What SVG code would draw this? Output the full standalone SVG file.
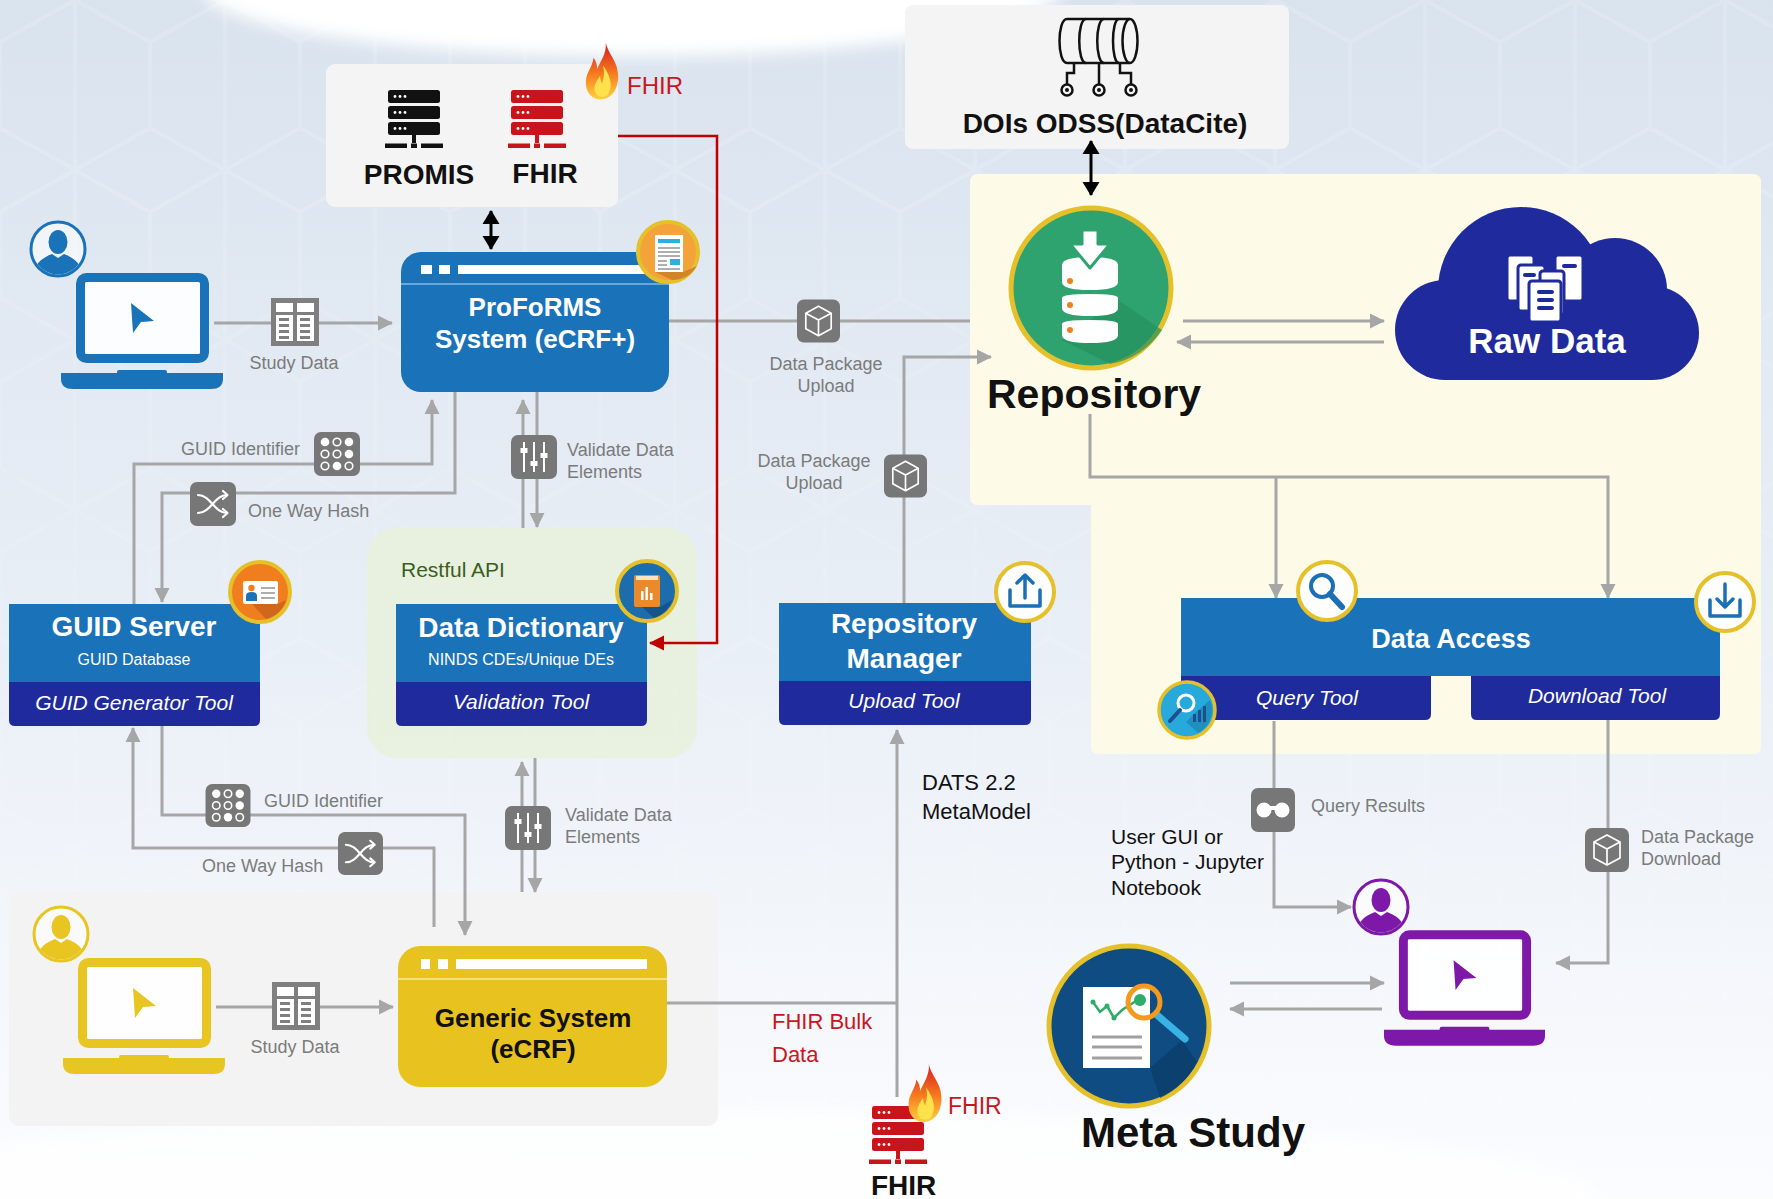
<svg xmlns="http://www.w3.org/2000/svg" width="1773" height="1199" viewBox="0 0 1773 1199">
<style>
  text { font-family: "Liberation Sans", Arial, sans-serif; }
  .lbl { font-size: 18px; fill: #7b7b7b; }
  .blk { fill: #111; }
  .ttl { font-weight: bold; fill: #fff; }
  .tool { font-style: italic; fill: #fff; font-size: 21px; }
  .sub { fill: #fff; font-size: 16px; }
  .mid { text-anchor: middle; }
  .red { fill: #c8161d; }
  .wire { fill: none; stroke: #a6a6a6; stroke-width: 3; }
  .arr { marker-end: url(#ag); }
  .blue { fill: #1a72b9; }
  .navy { fill: #1f2a9c; }
  .ring { stroke: #e6c02a; stroke-width: 4; }
</style>
<defs>
  <linearGradient id="bg" x1="0" y1="0" x2="0" y2="1">
    <stop offset="0" stop-color="#d9e3ee"/>
    <stop offset="0.5" stop-color="#e8eef6"/>
    <stop offset="1" stop-color="#fbfcfe"/>
  </linearGradient>
  <linearGradient id="fade" x1="0" y1="0" x2="0" y2="1">
    <stop offset="0" stop-color="#fff" stop-opacity="1"/>
    <stop offset="0.7" stop-color="#fff" stop-opacity="0.4"/>
    <stop offset="1" stop-color="#fff" stop-opacity="0"/>
  </linearGradient>
  <mask id="fadeMask"><rect width="1773" height="1199" fill="url(#fade)"/></mask>
  <pattern id="lattice" width="150" height="170" patternUnits="userSpaceOnUse">
    <path d="M75,0 L150,42 V128 L75,170 L0,128 V42 Z M75,0 V170" fill="none" stroke="#ffffff" stroke-opacity="0.45" stroke-width="4"/>
  </pattern>
  <filter id="soft" x="-20%" y="-50%" width="140%" height="200%"><feGaussianBlur stdDeviation="8"/></filter>
  <linearGradient id="flameG" x1="0" y1="1" x2="0" y2="0">
    <stop offset="0" stop-color="#ffd23f"/>
    <stop offset="0.45" stop-color="#f57c1f"/>
    <stop offset="1" stop-color="#d7191f"/>
  </linearGradient>
  <clipPath id="pclip"><circle r="25.5"/></clipPath>

  <marker id="ag" markerUnits="userSpaceOnUse" markerWidth="16" markerHeight="16" refX="14" refY="8" orient="auto">
    <path d="M0,0.5 L15,8 L0,15.5 Z" fill="#a6a6a6"/>
  </marker>
  <marker id="ar" markerUnits="userSpaceOnUse" markerWidth="16" markerHeight="16" refX="14" refY="8" orient="auto">
    <path d="M0,0.5 L15,8 L0,15.5 Z" fill="#c00000"/>
  </marker>
  <marker id="ak" markerUnits="userSpaceOnUse" markerWidth="16" markerHeight="18" refX="13" refY="9" orient="auto-start-reverse">
    <path d="M0,0.5 L14,9 L0,17.5 Z" fill="#000"/>
  </marker>

  <!-- rack server -->
  <symbol id="server" viewBox="0 0 58 58">
    <g fill="currentColor">
      <rect x="3" y="0" width="52" height="13" rx="2.5"/>
      <rect x="3" y="16" width="52" height="13" rx="2.5"/>
      <rect x="3" y="32" width="52" height="13" rx="2.5"/>
      <rect x="27" y="45" width="4" height="8"/>
      <rect x="0" y="53.5" width="22" height="4.5"/>
      <rect x="26" y="53.5" width="6" height="4.5"/>
      <rect x="36" y="53.5" width="22" height="4.5"/>
    </g>
    <g fill="#fff">
      <circle cx="10" cy="6.5" r="1.4"/><circle cx="15" cy="6.5" r="1.4"/><circle cx="20" cy="6.5" r="1.4"/>
      <circle cx="10" cy="22.5" r="1.4"/><circle cx="15" cy="22.5" r="1.4"/><circle cx="20" cy="22.5" r="1.4"/>
      <circle cx="10" cy="38.5" r="1.4"/><circle cx="15" cy="38.5" r="1.4"/><circle cx="20" cy="38.5" r="1.4"/>
    </g>
  </symbol>

  <!-- flame logo -->
  <symbol id="flame" viewBox="0 0 40 60">
    <path d="M24,0 C26,12 38,20 37,38 C36,52 28,60 19,60 C9,60 2,52 3,40 C4,30 10,26 11,16 C14,20 15,24 15,28 C18,20 25,12 24,0 Z" fill="url(#flameG)"/>
    <path d="M21,24 C28,34 32,44 27,54 C24,59 16,59 13,53 C10,46 15,40 18,35 C18,39 19,41 20,43 C22,37 23,31 21,24 Z" fill="#ffe14d"/>
  </symbol>

  <!-- laptop with pointer -->
  <symbol id="laptop" viewBox="0 0 162 116">
    <rect x="19.5" y="4.5" width="124" height="81" rx="6" fill="#fff" fill-opacity="0.9" stroke="currentColor" stroke-width="9"/>
    <rect x="56" y="97" width="50" height="5" rx="2" fill="currentColor"/>
    <path d="M0,100 H162 V106 Q162,116 150,116 H12 Q0,116 0,106 Z" fill="currentColor"/>
    <path d="M70,30 L93,48 L80,49 L72,60 Z" fill="currentColor"/>
  </symbol>

  <!-- user avatar -->
  <symbol id="person" viewBox="-30 -30 60 60">
    <circle r="27" fill="#fff" fill-opacity="0.55" stroke="currentColor" stroke-width="3"/>
    <g clip-path="url(#pclip)" fill="currentColor">
      <ellipse cx="0" cy="-7" rx="9.5" ry="12"/>
      <path d="M-26,30 C-24,14 -16,9 -6,5 L0,9 L6,5 C16,9 24,14 26,30 Z"/>
    </g>
  </symbol>

  <!-- grey connector tiles -->
  <symbol id="t-table" viewBox="0 0 48 48">
    <rect width="48" height="48" fill="#7f7f7f"/>
    <g fill="#fff">
      <rect x="5" y="5" width="17" height="9"/><rect x="26" y="5" width="17" height="9"/>
      <rect x="5" y="17" width="17" height="26"/><rect x="26" y="17" width="17" height="26"/>
    </g>
    <g fill="#7f7f7f">
      <rect x="8" y="20" width="10" height="3"/><rect x="8" y="26" width="10" height="3"/><rect x="8" y="32" width="10" height="3"/><rect x="8" y="38" width="10" height="3"/>
      <rect x="29" y="20" width="10" height="3"/><rect x="29" y="26" width="10" height="3"/><rect x="29" y="32" width="10" height="3"/><rect x="29" y="38" width="10" height="3"/>
    </g>
  </symbol>
  <symbol id="t-dots" viewBox="0 0 46 44">
    <rect width="46" height="44" rx="7" fill="#777"/>
    <g fill="#fff"><circle cx="11" cy="10" r="4.3"/><circle cx="35" cy="10" r="4.3"/><circle cx="35" cy="22" r="4.3"/><circle cx="23" cy="34" r="4.3"/></g>
    <g fill="none" stroke="#fff" stroke-width="1.6"><circle cx="23" cy="10" r="3.8"/><circle cx="11" cy="22" r="3.8"/><circle cx="23" cy="22" r="3.8"/><circle cx="11" cy="34" r="3.8"/><circle cx="35" cy="34" r="3.8"/></g>
  </symbol>
  <symbol id="t-hash" viewBox="0 0 46 44">
    <rect width="46" height="44" rx="7" fill="#777"/>
    <g fill="none" stroke="#fff" stroke-width="2.2" stroke-linecap="round" stroke-linejoin="round">
      <path d="M8,13 C21,13 24,31 37,31"/><path d="M8,31 C21,31 24,13 37,13"/>
      <path d="M33,9 L37.5,13 L33,17"/><path d="M33,27 L37.5,31 L33,35"/>
    </g>
  </symbol>
  <symbol id="t-sliders" viewBox="0 0 46 44">
    <rect width="46" height="44" rx="7" fill="#777"/>
    <g fill="#fff">
      <rect x="12" y="7" width="2" height="30"/><rect x="22" y="7" width="2" height="30"/><rect x="32" y="7" width="2" height="30"/>
      <rect x="9.5" y="13" width="7" height="5"/><rect x="19.5" y="26" width="7" height="5"/><rect x="29.5" y="18" width="7" height="5"/>
    </g>
  </symbol>
  <symbol id="t-cube" viewBox="0 0 44 44">
    <rect width="44" height="44" rx="7" fill="#777"/>
    <g fill="none" stroke="#fff" stroke-width="1.7" stroke-linejoin="round">
      <path d="M22,7 L35,14 V30 L22,37 L9,30 V14 Z"/><path d="M9,14 L22,21 L35,14 M22,21 V37"/>
    </g>
  </symbol>
  <symbol id="t-glasses" viewBox="0 0 44 44">
    <rect width="44" height="44" rx="7" fill="#777"/>
    <g fill="#fff"><circle cx="13" cy="22" r="7.5"/><circle cx="31" cy="22" r="7.5"/><rect x="18" y="18" width="8" height="4"/></g>
  </symbol>
</defs>

<!-- backdrop -->
<g id="backdrop">
  <rect width="1773" height="1199" fill="url(#bg)"/>
  <rect width="1773" height="1199" fill="url(#lattice)" mask="url(#fadeMask)" opacity="0.3"/>
  <ellipse cx="632" cy="-12" rx="430" ry="68" fill="#fff" filter="url(#soft)"/>
  <ellipse cx="700" cy="1199" rx="900" ry="90" fill="#fff" opacity="0.8" filter="url(#soft)"/>
</g>

<!-- grouping panels -->
<g id="panels">
  <path id="repository-panel" d="M978,174 H1753 Q1761,174 1761,182 V746 Q1761,754 1753,754 H1099 Q1091,754 1091,746 V505 H978 Q970,505 970,497 V182 Q970,174 978,174 Z" fill="#fdfbe7"/>
  <g id="restful-api">
    <rect x="367" y="528" width="330" height="230" rx="30" fill="#e8f1dd" fill-opacity="0.9"/>
    <text x="401" y="577" font-size="21" fill="#3b5e1e">Restful API</text>
  </g>
  <rect id="site-panel" x="9" y="892" width="709" height="234" rx="10" fill="#f3f3f3"/>
</g>

<!-- PROMIS / FHIR sources -->
<g id="promis-fhir">
  <rect x="326" y="64" width="292" height="143" rx="9" fill="#f4f4f4"/>
  <use href="#server" x="385" y="90" width="58" height="58" color="#111"/>
  <use href="#server" x="508" y="90" width="58" height="58" color="#c8141b"/>
  <text x="419" y="184" font-size="28" font-weight="bold" class="mid" fill="#111">PROMIS</text>
  <text x="545" y="183" font-size="28" font-weight="bold" class="mid" fill="#111">FHIR</text>
  <use href="#flame" x="583" y="42" width="38" height="58"/>
  <text class="red" x="627" y="94" font-size="24">FHIR</text>
</g>

<!-- DOI service -->
<g id="doi-service">
  <rect x="905" y="5" width="384" height="144" rx="8" fill="#f4f4f4"/>
  <g fill="none" stroke="#111" stroke-width="2.5">
    <path d="M1067,19 H1130 M1067,63 H1130"/>
    <ellipse cx="1130" cy="41" rx="7.5" ry="22"/>
    <path d="M1067,19 C1057,19 1057,63 1067,63"/>
    <path d="M1086,19 C1077,19 1077,63 1086,63"/>
    <path d="M1104,19 C1095,19 1095,63 1104,63"/>
    <path d="M1119,19 C1111,19 1111,63 1119,63"/>
    <path d="M1074,63 V73 H1067 V84"/>
    <path d="M1099,63 V84"/>
    <path d="M1120,63 V73 H1131 V84"/>
    <circle cx="1067" cy="90" r="5.5"/><circle cx="1099" cy="90" r="5.5"/><circle cx="1131" cy="90" r="5.5"/>
  </g>
  <g fill="#111"><circle cx="1067" cy="90" r="2"/><circle cx="1099" cy="90" r="2"/><circle cx="1131" cy="90" r="2"/></g>
  <text x="1105" y="133" font-size="28" font-weight="bold" class="mid" fill="#111">DOIs ODSS(DataCite)</text>
</g>

<!-- connectors -->
<g id="connectors">
  <path class="wire arr" d="M214,323 H392"/>
  <path class="wire" d="M669,321 H970"/>
  <path class="wire arr" d="M904,603 V357 H991"/>
  <path class="wire arr" d="M1183,321 H1384"/>
  <path class="wire arr" d="M1384,342 H1177"/>
  <path class="wire arr" d="M1090,414 V477 H1608 V598"/>
  <path class="wire arr" d="M1276,477 V598"/>
  <path class="wire arr" d="M1274,721 V907 H1351"/>
  <path class="wire arr" d="M1608,720 V963 H1556"/>
  <path class="wire arr" d="M1230,983 H1384"/>
  <path class="wire arr" d="M1382,1009 H1230"/>
  <path class="wire arr" d="M134,604 V464 H432 V400"/>
  <path class="wire arr" d="M455,392 V493 H162 V602"/>
  <path class="wire arr" d="M523,528 V400"/>
  <path class="wire arr" d="M537,392 V527"/>
  <path class="wire arr" d="M162,726 V815 H465 V935"/>
  <path class="wire arr" d="M434,927 V848 H133 V728"/>
  <path class="wire arr" d="M522,892 V762"/>
  <path class="wire arr" d="M535,758 V892"/>
  <path class="wire arr" d="M216,1007 H393"/>
  <path class="wire" d="M667,1003 H897"/>
  <path class="wire arr" d="M897,1097 V730"/>
  <path d="M618,136 H717 V643 H650" fill="none" stroke="#c00000" stroke-width="2.5" marker-end="url(#ar)"/>
  <path d="M491,211 V249" fill="none" stroke="#000" stroke-width="3" marker-start="url(#ak)" marker-end="url(#ak)"/>
  <path d="M1091,141 V195" fill="none" stroke="#000" stroke-width="3" marker-start="url(#ak)" marker-end="url(#ak)"/>
</g>

<!-- connector tiles and labels -->
<g id="connector-labels">
  <use href="#t-table" x="271" y="298" width="48" height="48"/>
  <text class="lbl mid" x="294" y="369">Study Data</text>
  <use href="#t-cube" x="797" y="299" width="43" height="44"/>
  <text class="lbl mid" x="826" y="370">Data Package</text>
  <text class="lbl mid" x="826" y="392">Upload</text>
  <use href="#t-cube" x="884" y="454" width="43" height="44"/>
  <text class="lbl mid" x="814" y="467">Data Package</text>
  <text class="lbl mid" x="814" y="489">Upload</text>
  <use href="#t-dots" x="314" y="432" width="46" height="44"/>
  <text class="lbl" x="181" y="455">GUID Identifier</text>
  <use href="#t-hash" x="190" y="482" width="46" height="44"/>
  <text class="lbl" x="248" y="517">One Way Hash</text>
  <use href="#t-sliders" x="511" y="435" width="46" height="44"/>
  <text class="lbl" x="567" y="456">Validate Data</text>
  <text class="lbl" x="567" y="478">Elements</text>
  <use href="#t-dots" x="205" y="784" width="46" height="43"/>
  <text class="lbl" x="264" y="807">GUID Identifier</text>
  <use href="#t-hash" x="338" y="832" width="45" height="43"/>
  <text class="lbl" x="202" y="872">One Way Hash</text>
  <use href="#t-sliders" x="505" y="806" width="46" height="44"/>
  <text class="lbl" x="565" y="821">Validate Data</text>
  <text class="lbl" x="565" y="843">Elements</text>
  <use href="#t-table" x="272" y="982" width="48" height="48"/>
  <text class="lbl mid" x="295" y="1053">Study Data</text>
  <use href="#t-glasses" x="1251" y="788" width="44" height="44"/>
  <text class="lbl" x="1311" y="812">Query Results</text>
  <use href="#t-cube" x="1585" y="828" width="44" height="44"/>
  <text class="lbl" x="1641" y="843">Data Package</text>
  <text class="lbl" x="1641" y="865">Download</text>
  <text class="blk" x="922" y="790" font-size="22">DATS 2.2</text>
  <text class="blk" x="922" y="819" font-size="22">MetaModel</text>
  <text class="blk" x="1111" y="844" font-size="21">User GUI or</text>
  <text class="blk" x="1111" y="869" font-size="21">Python - Jupyter</text>
  <text class="blk" x="1111" y="895" font-size="21">Notebook</text>
  <text class="red" x="772" y="1029" font-size="22">FHIR Bulk</text>
  <text class="red" x="772" y="1062" font-size="22">Data</text>
</g>

<!-- ProFoRMS -->
<g id="proforms">
  <rect x="401" y="252" width="268" height="140" rx="20" class="blue"/>
  <line x1="401" y1="284" x2="669" y2="284" stroke="#6aa7d8" stroke-width="2"/>
  <rect x="421" y="265" width="11" height="9" fill="#fff"/>
  <rect x="439" y="265" width="11" height="9" fill="#fff"/>
  <rect x="458" y="265" width="190" height="9" fill="#fff"/>
  <text x="535" y="316" font-size="26" class="ttl mid">ProFoRMS</text>
  <text x="535" y="348" font-size="26" class="ttl mid">System (eCRF+)</text>
  <g id="proforms-badge">
    <circle cx="668" cy="252" r="30" fill="#f3a33a" class="ring"/>
    <path d="M683,272 L697,266 A28,28 0 0 1 672,280 L655,272 Z" fill="#c87d24" opacity="0.8"/>
    <rect x="655" y="235" width="28" height="37" fill="#fff"/>
    <rect x="658" y="239" width="22" height="4" fill="#2bb0e0"/>
    <g stroke="#9a9a9a" stroke-width="1.6">
      <line x1="658" y1="248" x2="680" y2="248"/><line x1="658" y1="252" x2="680" y2="252"/>
      <line x1="658" y1="256" x2="680" y2="256"/><line x1="658" y1="261" x2="667" y2="261"/>
      <line x1="658" y1="265" x2="667" y2="265"/><line x1="658" y1="269" x2="680" y2="269"/>
    </g>
    <rect x="670" y="259" width="10" height="6" fill="#2bb0e0"/>
  </g>
</g>

<!-- researcher workstation (top) -->
<g id="user-workstation">
  <use href="#laptop" x="61" y="273" width="162" height="116" color="#1a72b9"/>
  <use href="#person" x="28" y="219" width="60" height="60" color="#1a72b9"/>
</g>

<!-- GUID server -->
<g id="guid-server">
  <rect x="9" y="604" width="251" height="78" class="blue"/>
  <path d="M9,682 H260 V720 Q260,726 254,726 H15 Q9,726 9,720 Z" class="navy"/>
  <text x="134" y="636" font-size="28" class="ttl mid">GUID Server</text>
  <text x="134" y="665" class="sub mid">GUID Database</text>
  <text x="134" y="710" class="tool mid">GUID Generator Tool</text>
  <g id="guid-badge">
    <circle cx="260" cy="592" r="30" fill="#f07d1e" class="ring"/>
    <path d="M278,604 L286,600 A28,28 0 0 1 266,619 L252,604 Z" fill="#c8621a" opacity="0.8"/>
    <rect x="243" y="581" width="35" height="23" rx="2" fill="#fff"/>
    <circle cx="251.5" cy="588" r="3.2" fill="#f07d1e"/>
    <path d="M246,601 V596 Q246,592 251.5,592 Q257,592 257,596 V601 Z" fill="#1a72b9"/>
    <g stroke="#9a9a9a" stroke-width="1.6"><line x1="261" y1="588" x2="275" y2="588"/><line x1="261" y1="593" x2="275" y2="593"/><line x1="261" y1="598" x2="275" y2="598"/></g>
  </g>
</g>

<!-- data dictionary -->
<g id="data-dictionary">
  <rect x="396" y="604" width="251" height="78" class="blue"/>
  <path d="M396,682 H647 V720 Q647,726 641,726 H402 Q396,726 396,720 Z" class="navy"/>
  <text x="521" y="637" font-size="28" class="ttl mid">Data Dictionary</text>
  <text x="521" y="665" class="sub mid">NINDS CDEs/Unique DEs</text>
  <text x="521" y="709" class="tool mid">Validation Tool</text>
  <g id="dictionary-badge">
    <circle cx="647" cy="591" r="30" fill="#1d6dad" class="ring"/>
    <path d="M660,607 L672,600 A28,28 0 0 1 654,618 L642,607 Z" fill="#124f82" opacity="0.8"/>
    <rect x="634" y="575" width="26" height="32" rx="2" fill="#e98b2a"/>
    <rect x="636" y="576" width="22" height="4" fill="#fbe3c0"/>
    <g fill="#fff"><rect x="641" y="591" width="2.5" height="9"/><rect x="645.5" y="587" width="2.5" height="13"/><rect x="650" y="593" width="2.5" height="7"/></g>
  </g>
</g>

<!-- generic eCRF system (site) -->
<g id="generic-system">
  <rect x="398" y="946" width="269" height="141" rx="22" fill="#e8c21e"/>
  <line x1="398" y1="979" x2="667" y2="979" stroke="#f6e07a" stroke-width="2"/>
  <rect x="421" y="959" width="9" height="10" fill="#fff"/>
  <rect x="438" y="959" width="10" height="10" fill="#fff"/>
  <rect x="456" y="959" width="191" height="10" fill="#fff"/>
  <text x="533" y="1027" font-size="26" font-weight="bold" class="mid" fill="#111">Generic System</text>
  <text x="533" y="1058" font-size="26" font-weight="bold" class="mid" fill="#111">(eCRF)</text>
</g>

<g id="site-workstation">
  <use href="#laptop" x="63" y="958" width="162" height="116" color="#e8c520"/>
  <use href="#person" x="31" y="904" width="60" height="60" color="#e8c520"/>
</g>

<!-- repository -->
<g id="repository">
  <circle cx="1091" cy="288" r="80" fill="#2ea36f" stroke="#e6c02a" stroke-width="5"/>
  <path d="M1118,300 L1162,330 A78,78 0 0 1 1110,364 L1062,340 Z" fill="#25905e" opacity="0.7"/>
  <g fill="#fff">
    <path d="M1062,265 Q1062,257 1090,257 Q1118,257 1118,265 V282 Q1118,290 1090,290 Q1062,290 1062,282 Z"/>
    <path d="M1062,298 Q1062,294 1090,294 Q1118,294 1118,298 V308 Q1118,316 1090,316 Q1062,316 1062,308 Z"/>
    <path d="M1062,324 Q1062,320 1090,320 Q1118,320 1118,324 V335 Q1118,343 1090,343 Q1062,343 1062,335 Z"/>
  </g>
  <path d="M1082,230 H1098 V244 H1110 L1090,268 L1070,244 H1082 Z" fill="#fff" stroke="#2ea36f" stroke-width="3" stroke-linejoin="round"/>
  <g fill="#f07f1f"><circle cx="1070" cy="281" r="3"/><circle cx="1070" cy="305" r="3"/><circle cx="1070" cy="330" r="3"/></g>
  <text x="987" y="408" font-size="41" font-weight="bold" fill="#111">Repository</text>
</g>

<!-- raw data storage -->
<g id="raw-data">
  <g fill="#1f2a9c">
    <circle cx="1445" cy="330" r="50"/>
    <circle cx="1521" cy="290" r="83"/>
    <circle cx="1615" cy="290" r="52"/>
    <circle cx="1652" cy="333" r="47"/>
    <rect x="1445" y="300" width="207" height="80"/>
  </g>
  <g fill="#fff" stroke="#1f2a9c" stroke-width="3">
    <rect x="1507" y="255" width="27" height="46" rx="3"/>
    <rect x="1555" y="255" width="28" height="46" rx="3"/>
    <rect x="1518" y="265" width="27" height="46" rx="3"/>
    <rect x="1540" y="271" width="24" height="44" rx="3"/>
    <rect x="1529" y="281" width="32" height="41" rx="3"/>
  </g>
  <g fill="#1f2a9c">
    <rect x="1562" y="264" width="15" height="4" rx="2"/>
    <rect x="1523" y="273" width="13" height="4" rx="2"/>
    <rect x="1537" y="290" width="17" height="4" rx="2"/>
    <rect x="1537" y="298" width="17" height="4" rx="2"/>
    <rect x="1537" y="306" width="17" height="4" rx="2"/>
  </g>
  <text x="1547" y="353" font-size="35" class="ttl mid">Raw Data</text>
</g>

<!-- repository manager -->
<g id="repository-manager">
  <rect x="779" y="603" width="252" height="78" class="blue"/>
  <path d="M779,681 H1031 V719 Q1031,725 1025,725 H785 Q779,725 779,719 Z" class="navy"/>
  <text x="904" y="633" font-size="28" class="ttl mid">Repository</text>
  <text x="904" y="668" font-size="28" class="ttl mid">Manager</text>
  <text x="904" y="708" class="tool mid">Upload Tool</text>
  <g id="upload-badge">
    <circle cx="1025" cy="592" r="29" fill="#fff" class="ring"/>
    <g fill="none" stroke="#1a6fb5" stroke-width="3.5" stroke-linecap="round" stroke-linejoin="round">
      <path d="M1025,598 V575 M1017,583 L1025,575 L1033,583"/>
      <path d="M1010,590 V606 H1040 V590"/>
    </g>
  </g>
</g>

<!-- data access -->
<g id="data-access">
  <rect x="1181" y="598" width="539" height="78" class="blue"/>
  <path d="M1181,676 H1431 V714 Q1431,720 1425,720 H1187 Q1181,720 1181,714 Z" class="navy"/>
  <path d="M1471,676 H1720 V714 Q1720,720 1714,720 H1477 Q1471,720 1471,714 Z" class="navy"/>
  <text x="1451" y="648" font-size="27" class="ttl mid">Data Access</text>
  <text x="1307" y="705" class="tool mid">Query Tool</text>
  <text x="1597" y="703" class="tool mid">Download Tool</text>
  <g id="search-badge">
    <circle cx="1327" cy="591" r="29" fill="#fff" class="ring"/>
    <circle cx="1322" cy="586" r="11" fill="none" stroke="#1a6fb5" stroke-width="4"/>
    <line x1="1330" y1="594" x2="1342" y2="607" stroke="#1a6fb5" stroke-width="6" stroke-linecap="round"/>
  </g>
  <g id="download-badge">
    <circle cx="1725" cy="602" r="29" fill="#fff" class="ring"/>
    <g fill="none" stroke="#1a6fb5" stroke-width="3.5" stroke-linecap="round" stroke-linejoin="round">
      <path d="M1725,584 V607 M1717,599 L1725,607 L1733,599"/>
      <path d="M1710,600 V616 H1740 V600"/>
    </g>
  </g>
  <g id="query-badge">
    <circle cx="1187" cy="710" r="28" fill="#27a9dc" stroke="#e6c02a" stroke-width="3.5"/>
    <path d="M1196,712 L1210,700 A26,26 0 0 1 1198,733 L1186,722 Z" fill="#1b8ab8" opacity="0.8"/>
    <circle cx="1186" cy="703" r="8" fill="none" stroke="#fff" stroke-width="3"/>
    <line x1="1180" y1="710" x2="1170" y2="721" stroke="#1f4e8c" stroke-width="4" stroke-linecap="round"/>
    <g fill="#1f4e8c"><rect x="1193" y="714" width="3" height="8"/><rect x="1198" y="710" width="3" height="12"/><rect x="1203" y="706" width="3" height="16"/></g>
  </g>
</g>

<!-- meta study -->
<g id="meta-study">
  <circle cx="1129" cy="1026" r="80" fill="#0f4c81" stroke="#e6c02a" stroke-width="5"/>
  <path d="M1150,1068 L1182,1040 L1197,1062 A78,78 0 0 1 1160,1098 Z" fill="#0a3d6a" opacity="0.8"/>
  <rect x="1083" y="987" width="67" height="81" fill="#fff"/>
  <polyline points="1093,1002 1100,1012 1107,1006 1114,1018 1122,1010 1136,1001" fill="none" stroke="#2cae6a" stroke-width="2.5"/>
  <g fill="#2cae6a"><circle cx="1093" cy="1002" r="2.5"/><circle cx="1107" cy="1006" r="2.5"/><circle cx="1114" cy="1018" r="2.5"/><circle cx="1140" cy="1000" r="6"/></g>
  <g stroke="#a0a0a0" stroke-width="3"><line x1="1092" y1="1037" x2="1142" y2="1037"/><line x1="1092" y1="1047" x2="1142" y2="1047"/><line x1="1092" y1="1058" x2="1142" y2="1058"/></g>
  <line x1="1157" y1="1015" x2="1185" y2="1039" stroke="#39b3e6" stroke-width="7" stroke-linecap="round"/>
  <circle cx="1144" cy="1002" r="16" fill="none" stroke="#f39a1e" stroke-width="5"/>
  <text x="1193" y="1147" font-size="42" font-weight="bold" class="mid" fill="#111">Meta Study</text>
</g>

<g id="analyst-workstation">
  <use href="#laptop" x="1384" y="930" width="161" height="116" color="#7d18a8"/>
  <use href="#person" x="1351" y="877" width="60" height="60" color="#7d18a8"/>
</g>

<!-- FHIR bulk source -->
<g id="fhir-bulk-source">
  <use href="#server" x="869" y="1106" width="58" height="58" color="#c8141b"/>
  <use href="#flame" x="905" y="1064" width="40" height="58"/>
  <text class="red" x="948" y="1114" font-size="23">FHIR</text>
  <text x="871" y="1195" font-size="28" font-weight="bold" fill="#111">FHIR</text>
</g>
</svg>
